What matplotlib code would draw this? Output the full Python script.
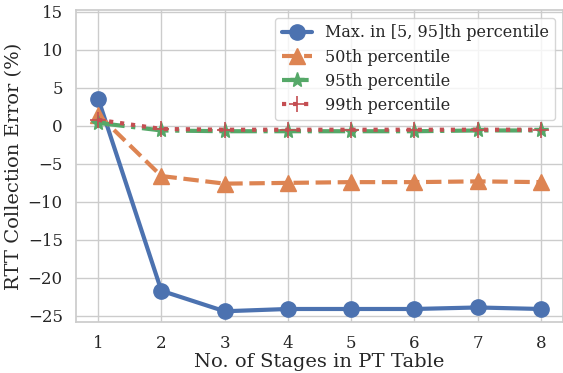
import numpy as np
import matplotlib
matplotlib.use('Agg')
import matplotlib.pyplot as plt
import seaborn as sns

stages = [1, 2, 3, 4, 5, 6, 7, 8]
max_err = [3.6, -21.7, -24.4, -24.1, -24.1, -24.1, -23.9, -24.1]
p50 = [1.5, -6.6, -7.6, -7.5, -7.4, -7.4, -7.3, -7.4]
p95 = [0.4, -0.6, -0.7, -0.7, -0.7, -0.7, -0.6, -0.6]
p99 = [0.8, -0.4, -0.5, -0.5, -0.5, -0.5, -0.5, -0.5]

sns.set_theme(style='whitegrid')
plt.rcParams['font.family'] = ['DejaVu Serif']
pal = sns.color_palette('deep')

fig, ax = plt.subplots(figsize=(5.63, 3.73), dpi=100)

ax.plot(stages, max_err, '-', marker='o', markersize=11, linewidth=3,
        color=pal[0], label='Max. in [5, 95]th percentile')
ax.plot(stages, p50, '--', marker='^', markersize=11, linewidth=3,
        color=pal[1], label='50th percentile')
ax.plot(stages, p95, '-.', marker='*', markersize=11, linewidth=3,
        color=pal[2], label='95th percentile')
ax.plot(stages, p99, ':', marker='+', markersize=11, linewidth=3,
        markeredgewidth=1.2, color=pal[3], label='99th percentile')

ax.set_ylim(-25.8, 15.25)
ax.set_yticks(np.arange(-25, 16, 5))
ax.set_xticks(stages)
ax.tick_params(labelsize=12)
ax.set_xlabel('No. of Stages in PT Table', fontsize=14, labelpad=1)
ax.set_ylabel('RTT Collection Error (%)', fontsize=14, labelpad=3)
ax.legend(loc='upper right', fontsize=11.5, handlelength=1.9,
          handletextpad=0.8, borderaxespad=0.5, labelspacing=0.45)

fig.subplots_adjust(left=0.135, right=1.0, top=0.973, bottom=0.137)
plt.savefig('out.png')
